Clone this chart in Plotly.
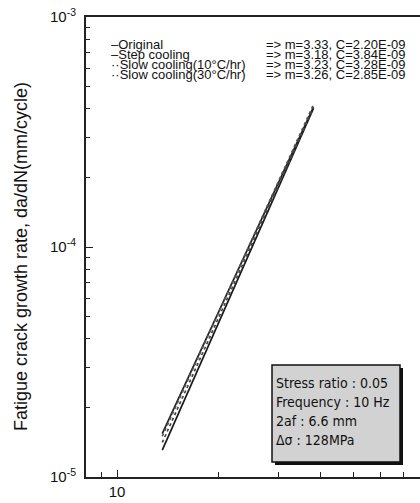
import numpy as np
import plotly.graph_objects as go

# Paris-law fits da/dN = C * dK^m for each heat treatment
names = ["Original", "Step cooling", "Slow cooling(10°C/hr)", "Slow cooling(30°C/hr)"]
m_vals = [3.33, 3.18, 3.23, 3.26]
c_vals = [2.20e-9, 3.84e-9, 3.28e-9, 2.85e-9]
c_labels = ["2.20E-09", "3.84E-09", "3.28E-09", "2.85E-09"]
dk_start = [13.6, 13.6, 13.6, 13.6]
dk_end = [38.0, 38.0, 38.0, 38.0]
line_dash = ["solid", "solid", "dot", "dot"]
line_color = ["#1a1a1a", "#222222", "#555555", "#444444"]
legend_marks = ["\u2013", "\u2013", "\u00b7\u00b7", "\u00b7\u00b7"]

y_tickvals = [1e-5, 1e-4, 1e-3]
y_ticktext = ["10<sup>-5</sup>", "10<sup>-4</sup>", "10<sup>-3</sup>"]
x_tickvals = [10, 100]
x_ticktext = ["10", "100"]
x_minor = [8, 9, 20, 30, 40, 50, 60, 70, 80, 90]
y_minor = [k * 10.0 ** e for e in (-5, -4) for k in range(2, 10)]

box_lines = ["Stress ratio : 0.05", "Frequency : 10 Hz", "2af : 6.6 mm", "\u0394\u03c3 : 128MPa"]
y_title = "Fatigue crack growth rate, da/dN(mm/cycle)"

W, H = 420, 503
L, T, B = 86, 17, 26
pw, ph = W - L, H - T - B

def px(x):
    return (x - L) / pw

def py(y):
    return (H - B - y) / ph

fig = go.Figure()
for i, n in enumerate(names):
    dk = np.array([dk_start[i], dk_end[i]])
    fig.add_trace(go.Scatter(
        x=dk, y=c_vals[i] * dk ** m_vals[i], mode="lines", name=n,
        line=dict(color=line_color[i], width=1.7, dash=line_dash[i]),
        showlegend=False,
    ))

font_narrow = "DejaVu Sans Condensed, Liberation Sans Narrow, Liberation Sans, sans-serif"
font_reg = "Liberation Sans, Arial, sans-serif"
row_y = [44.5, 54.5, 64.5, 74.5]
for i, n in enumerate(names):
    fig.add_annotation(x=px(110), y=py(row_y[i]), xref="paper", yref="paper",
                       text=legend_marks[i] + n, showarrow=False, xanchor="left",
                       yanchor="middle", borderpad=0,
                       font=dict(family=font_reg, size=13, color="#111"))
    fig.add_annotation(x=px(265), y=py(row_y[i]), xref="paper", yref="paper",
                       text=f"=> m={m_vals[i]:.2f}, C={c_labels[i]}", showarrow=False,
                       xanchor="left", yanchor="middle", borderpad=0,
                       font=dict(family=font_reg, size=13, color="#111"))

# test-condition box with a drop shadow
fig.add_shape(type="rect", xref="paper", yref="paper",
              x0=px(275), x1=px(403), y0=py(465), y1=py(368),
              fillcolor="#111", line=dict(width=0))
fig.add_shape(type="rect", xref="paper", yref="paper",
              x0=px(272), x1=px(400), y0=py(462), y1=py(365),
              fillcolor="#d2d2d2", line=dict(color="#111", width=1.5))
box_y = [383, 402, 421, 440]
for i, t in enumerate(box_lines):
    fig.add_annotation(x=px(275), y=py(box_y[i]), xref="paper", yref="paper",
                       text=t, showarrow=False, xanchor="left", yanchor="middle",
                       borderpad=0,
                       font=dict(family=font_narrow, size=14, color="#111"))

# rotated y-axis title
fig.add_annotation(x=px(21), y=py(257), xref="paper", yref="paper", text=y_title,
                   textangle=-90, showarrow=False, xanchor="center", yanchor="middle",
                   font=dict(family=font_reg, size=18, color="#111"))

fig.update_xaxes(type="log", range=[np.log10(8.1), np.log10(78.4)],
                 tickvals=x_tickvals, ticktext=x_ticktext, ticks="inside", ticklen=7,
                 tickwidth=1.2, tickcolor="#222",
                 minor=dict(tickvals=x_minor, ticks="inside", ticklen=5, tickcolor="#222"),
                 showline=True, linecolor="#222", linewidth=2, mirror=True,
                 showgrid=False, zeroline=False,
                 tickfont=dict(family=font_reg, size=15, color="#111"))
fig.update_yaxes(type="log", range=[-5, -3],
                 tickvals=y_tickvals, ticktext=y_ticktext, ticks="inside", ticklen=7,
                 tickwidth=1.2, tickcolor="#222",
                 minor=dict(tickvals=y_minor, ticks="inside", ticklen=4, tickcolor="#222"),
                 showline=True, linecolor="#222", linewidth=2, mirror=False,
                 showgrid=False, zeroline=False, ticklabelstandoff=5,
                 tickfont=dict(family=font_reg, size=15, color="#111"))

fig.update_layout(width=W, height=H, margin=dict(l=L, r=0, t=T, b=B),
                  plot_bgcolor="white", paper_bgcolor="white")

fig.write_html("out.html")
